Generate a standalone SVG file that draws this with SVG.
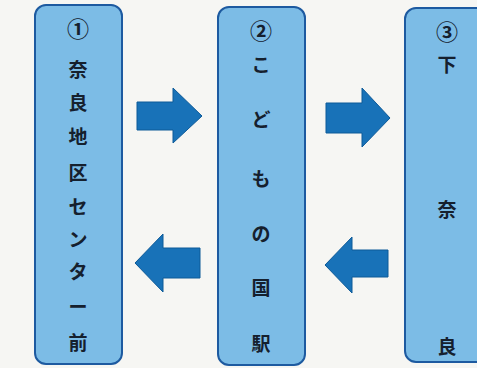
<svg xmlns="http://www.w3.org/2000/svg" width="477" height="368" viewBox="0 0 477 368">
<style>
.box{fill:#7cbce6;stroke:#1d5aa0;stroke-width:2}
.arr{fill:#1872b8;stroke:#0d5a98;stroke-width:1}
text{font-family:"Noto Sans CJK JP","Noto Sans",sans-serif;font-weight:bold;font-size:19px;fill:#15202e;text-anchor:middle;dominant-baseline:central}
.num{font-size:22px}
</style>
<rect width="477" height="368" fill="#f6f6f3"/>
<g id="node1">
<rect class="box" x="35" y="5" width="87" height="359" rx="11"/>
<text class="num" x="78" y="27">①</text>
<text x="78" y="68">奈</text>
<text x="78" y="101">良</text>
<text x="78" y="135">地</text>
<text x="78" y="171">区</text>
<text x="78" y="205">セ</text>
<text x="78" y="238">ン</text>
<text x="78" y="270">タ</text>
<text x="78" y="305">ー</text>
<text x="78" y="341">前</text>
</g>
<g id="node2">
<rect class="box" x="218" y="7" width="87" height="358" rx="11"/>
<text class="num" x="261" y="29">②</text>
<text x="261" y="63">こ</text>
<text x="261" y="118">ど</text>
<text x="261" y="177">も</text>
<text x="261" y="232">の</text>
<text x="261" y="286">国</text>
<text x="261" y="342">駅</text>
</g>
<g id="node3">
<rect class="box" x="405" y="8" width="90" height="354" rx="11"/>
<text class="num" x="447" y="30">③</text>
<text x="447" y="63">下</text>
<text x="447" y="208">奈</text>
<text x="447" y="345">良</text>
</g>
<g id="connectors">
<polygon class="arr" points="137,102 173,102 173,88 202,116 173,143 173,130 137,130"/>
<polygon class="arr" points="326,103 362,103 362,88 390,118 362,147 362,133 326,133"/>
<polygon class="arr" points="200,248 163,248 163,234 135,263 163,292 163,278 200,278"/>
<polygon class="arr" points="388,250 352,250 352,237 325,265 352,293 352,277 388,277"/>
</g>
</svg>
